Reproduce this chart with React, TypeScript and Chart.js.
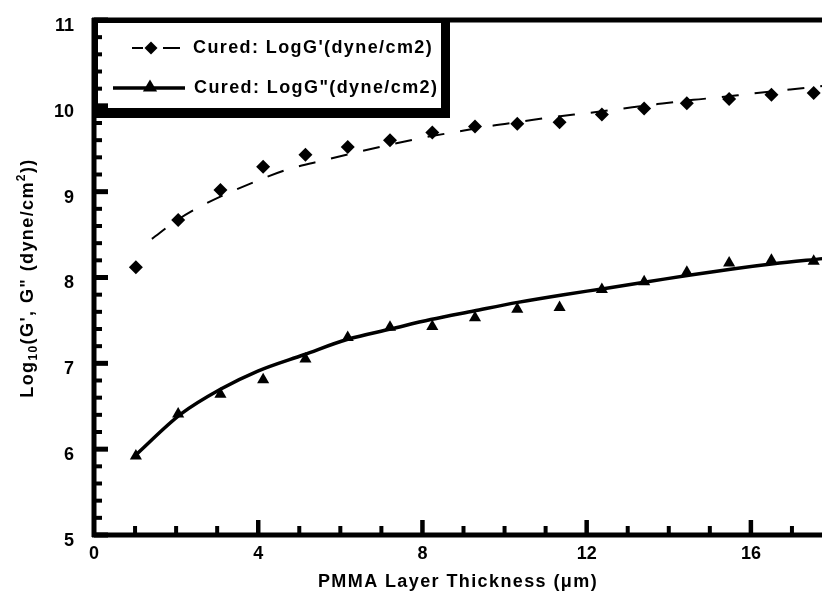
import React, { useEffect, useRef } from 'react';
import { Chart, registerables } from 'chart.js';

Chart.register(...registerables);

// ---- data ----
const markerX = [1.02, 2.05, 3.08, 4.12, 5.15, 6.18, 7.21, 8.24, 9.28, 10.31, 11.34, 12.37, 13.4, 14.44, 15.47, 16.5, 17.53];
const gPrime = [8.12, 8.67, 9.02, 9.29, 9.43, 9.52, 9.6, 9.69, 9.76, 9.79, 9.81, 9.9, 9.97, 10.03, 10.08, 10.13, 10.15];
const gDouble = [5.92, 6.41, 6.64, 6.81, 7.05, 7.3, 7.42, 7.43, 7.53, 7.63, 7.65, 7.86, 7.95, 8.06, 8.17, 8.2, 8.19];

const fitPrimeX = [1.41, 2.0, 2.6, 3.94, 4.72, 5.64, 6.5, 7.23, 8.03, 8.86, 9.73, 10.46, 11.19, 12.09, 12.9, 13.72, 14.6, 15.26, 15.99, 16.96, 17.75];
const fitPrimeY = [8.45, 8.66, 8.83, 9.12, 9.26, 9.37, 9.47, 9.55, 9.63, 9.7, 9.77, 9.82, 9.87, 9.92, 9.97, 10.02, 10.07, 10.1, 10.14, 10.19, 10.23];
const fitDoubleX = [0.97, 2.12, 3.09, 3.99, 5.11, 6.18, 7.23, 8.2, 9.25, 10.32, 11.44, 12.41, 13.48, 14.53, 15.55, 16.55, 17.75];
const fitDoubleY = [5.91, 6.41, 6.7, 6.91, 7.1, 7.28, 7.4, 7.51, 7.61, 7.71, 7.8, 7.87, 7.95, 8.03, 8.1, 8.16, 8.22];

const xMajorTicks = [0, 4, 8, 12, 16];
const yTickLabels = [5, 6, 7, 8, 9, 10, 11];
const legendLabels = ["Cured: LogG'(dyne/cm2)", 'Cured: LogG"(dyne/cm2)'];
const xTitle = 'PMMA Layer Thickness (\u03bcm)';
const yTitleParts = [
  { t: 'Log', kind: 'n' },
  { t: '10', kind: 'sub' },
  { t: '(G\', G" (dyne/cm', kind: 'n' },
  { t: '2', kind: 'sup' },
  { t: '))', kind: 'n' },
];

const FONT = "'Liberation Sans', Arial, sans-serif";
const zip = (xs: number[], ys: number[]) => xs.map((x, i) => ({ x, y: ys[i] }));

const drawDiamond = (ctx: CanvasRenderingContext2D, cx: number, cy: number, r: number) => {
  ctx.beginPath();
  ctx.moveTo(cx, cy - r);
  ctx.lineTo(cx + r, cy);
  ctx.lineTo(cx, cy + r);
  ctx.lineTo(cx - r, cy);
  ctx.closePath();
  ctx.fill();
};
const drawTriangle = (ctx: CanvasRenderingContext2D, cx: number, cy: number, r: number) => {
  ctx.beginPath();
  ctx.moveTo(cx, cy - r);
  ctx.lineTo(cx + r * 0.95, cy + r * 0.6);
  ctx.lineTo(cx - r * 0.95, cy + r * 0.6);
  ctx.closePath();
  ctx.fill();
};

const framePlugin = {
  id: 'frame',
  afterDraw(chart: any) {
    const { ctx, chartArea: a, scales } = chart;
    const xs = scales.x;
    const ys = scales.y;
    ctx.save();
    ctx.fillStyle = '#000';
    ctx.strokeStyle = '#000';

    // legend box with heavy shadow
    ctx.fillRect(a.left, a.top, 450 - a.left, 118 - a.top);
    ctx.fillStyle = '#fff';
    ctx.fillRect(a.left + 4, a.top + 3, 441 - a.left - 4, 108 - a.top - 3);
    ctx.fillStyle = '#000';
    const r1 = 48;
    const r2 = 88;
    ctx.lineWidth = 2;
    ctx.beginPath();
    ctx.moveTo(132, r1); ctx.lineTo(143, r1);
    ctx.moveTo(163, r1); ctx.lineTo(180, r1);
    ctx.stroke();
    drawDiamond(ctx, 151, r1, 6.5);
    ctx.lineWidth = 3.5;
    ctx.beginPath();
    ctx.moveTo(113, r2); ctx.lineTo(185, r2);
    ctx.stroke();
    drawTriangle(ctx, 150, r2 - 1, 7.5);
    ctx.font = `bold 18px ${FONT}`;
    (ctx as any).letterSpacing = '1.4px';
    ctx.textAlign = 'left';
    ctx.textBaseline = 'middle';
    ctx.fillText(legendLabels[0], 193, r1);
    ctx.fillText(legendLabels[1], 194, r2);

    // axes and top border
    ctx.lineWidth = 5;
    ctx.beginPath();
    ctx.moveTo(a.left, a.top - 2); ctx.lineTo(a.left, a.bottom + 2);
    ctx.moveTo(a.left - 2, a.bottom); ctx.lineTo(a.right + 10, a.bottom);
    ctx.moveTo(a.left - 2, a.top); ctx.lineTo(a.right + 10, a.top);
    ctx.stroke();

    // y ticks (inward)
    for (let i = 0; i <= 30; i++) {
      const v = 5 + i * 0.2;
      const py = ys.getPixelForValue(v);
      const major = i % 5 === 0;
      ctx.lineWidth = major ? 5 : 4;
      ctx.beginPath();
      ctx.moveTo(a.left, py);
      ctx.lineTo(a.left + (major ? 14 : 8), py);
      ctx.stroke();
    }
    // x ticks (inward)
    for (let v = 1; v <= 18; v++) {
      const px = xs.getPixelForValue(v);
      const major = v % 4 === 0;
      ctx.lineWidth = major ? 4.5 : 4;
      ctx.beginPath();
      ctx.moveTo(px, a.bottom);
      ctx.lineTo(px, a.bottom - (major ? 15 : 9));
      ctx.stroke();
    }

    // x title
    ctx.font = `bold 18px ${FONT}`;
    ctx.textAlign = 'center';
    ctx.textBaseline = 'middle';
    ctx.fillText(xTitle, (a.left + 822) / 2, 582);

    // y title with sub/superscripts
    ctx.save();
    ctx.translate(28, 278);
    ctx.rotate(-Math.PI / 2);
    ctx.textAlign = 'left';
    const sizeOf = (k: string) => (k === 'n' ? 18 : 12);
    const widths = yTitleParts.map((p) => {
      ctx.font = `bold ${sizeOf(p.kind)}px ${FONT}`;
      return ctx.measureText(p.t).width;
    });
    const total = widths.reduce((s, w) => s + w, 0);
    let cx = -total / 2;
    yTitleParts.forEach((p, i) => {
      ctx.font = `bold ${sizeOf(p.kind)}px ${FONT}`;
      const dy = p.kind === 'sub' ? 6 : p.kind === 'sup' ? -6 : 0;
      ctx.fillText(p.t, cx, dy);
      cx += widths[i];
    });
    ctx.restore();

    ctx.restore();
  },
};

export default function App() {
  const ref = useRef<HTMLCanvasElement | null>(null);
  useEffect(() => {
    if (!ref.current) return;
    const tickFont = { family: FONT, size: 18, weight: 'bold' as const };
    const chart = new Chart(ref.current, {
      type: 'scatter',
      data: {
        datasets: [
          {
            label: legendLabels[0] + ' fit',
            data: zip(fitPrimeX, fitPrimeY),
            showLine: true,
            borderColor: '#000',
            borderWidth: 2,
            borderDash: [17, 16],
            pointRadius: 0,
            cubicInterpolationMode: 'monotone',
          },
          {
            label: legendLabels[1] + ' fit',
            data: zip(fitDoubleX, fitDoubleY),
            showLine: true,
            borderColor: '#000',
            borderWidth: 3.5,
            pointRadius: 0,
            cubicInterpolationMode: 'monotone',
          },
          {
            label: legendLabels[0],
            data: zip(markerX, gPrime),
            showLine: false,
            pointStyle: 'rectRot',
            pointRadius: 7,
            backgroundColor: '#000',
            borderColor: '#000',
            borderWidth: 0,
          },
          {
            label: legendLabels[1],
            data: zip(markerX, gDouble),
            showLine: false,
            pointStyle: 'triangle',
            pointRadius: 7,
            backgroundColor: '#000',
            borderColor: '#000',
            borderWidth: 0,
          },
        ],
      },
      options: {
        responsive: false,
        animation: false,
        layout: { padding: { left: 0, top: 20, right: 7, bottom: 0 } },
        plugins: { legend: { display: false }, tooltip: { enabled: false } },
        scales: {
          x: {
            type: 'linear',
            min: 0,
            max: 18,
            grid: { display: false, drawTicks: false },
            border: { display: false },
            ticks: {
              stepSize: 1,
              autoSkip: false,
              maxRotation: 0,
              padding: 8,
              color: '#000',
              font: tickFont,
              callback: (v: any) => (xMajorTicks.includes(Number(v)) ? String(v) : ''),
            },
            afterFit: (s: any) => {
              s.height = 65;
              s.paddingLeft = 0;
              s.paddingRight = 0;
            },
          },
          y: {
            type: 'linear',
            min: 5,
            max: 11,
            grid: { display: false, drawTicks: false },
            border: { display: false },
            ticks: {
              stepSize: 1,
              padding: 20,
              labelOffset: 6,
              color: '#000',
              font: tickFont,
              callback: (v: any) => (yTickLabels.includes(Number(v)) ? String(v) : ''),
            },
            afterFit: (s: any) => {
              s.width = 94;
              s.paddingTop = 0;
              s.paddingBottom = 0;
            },
          },
        },
      },
      plugins: [framePlugin],
    } as any);
    return () => chart.destroy();
  }, []);
  return (
    <div style={{ position: 'absolute', left: 0, top: 0, width: 822, height: 600, overflow: 'hidden', background: '#fff' }}>
      <canvas ref={ref} width={840} height={600} style={{ width: 840, height: 600, display: 'block' }} />
    </div>
  );
}
